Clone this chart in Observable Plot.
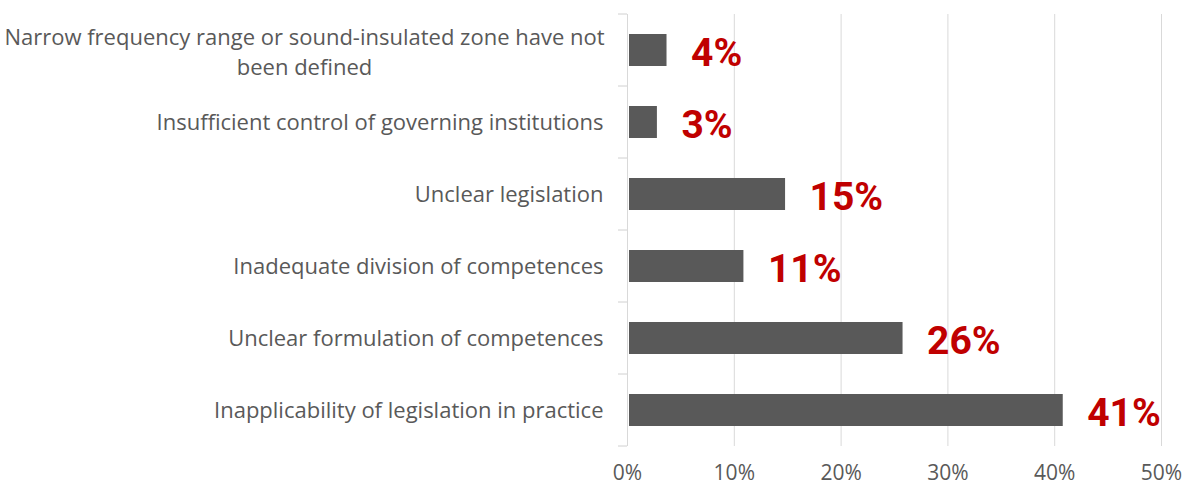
<!DOCTYPE html>
<html>
<head>
<meta charset="utf-8">
<script src="https://cdn.jsdelivr.net/npm/d3@7"></script>
<script src="https://cdn.jsdelivr.net/npm/@observablehq/plot@0.6"></script>
<style>
  html, body { margin: 0; padding: 0; background: #ffffff; }
  #chart svg { display: block; }
</style>
</head>
<body>
<div id="chart"></div>
<script>
// Categories (top to bottom)
const categories = [
  "Narrow frequency range or sound-insulated zone have not\nbeen defined",
  "Insufficient control of governing institutions",
  "Unclear legislation",
  "Inadequate division of competences",
  "Unclear formulation of competences",
  "Inapplicability of legislation in practice"
];
// Bar values (percent)
const values = [3.7, 2.8, 14.8, 10.9, 25.8, 40.8];
// Data labels
const valueLabels = ["4%", "3%", "15%", "11%", "26%", "41%"];
// X tick values
const xTicks = [0, 10, 20, 30, 40, 50];

const rows = categories.map((c, i) => ({category: c, value: values[i], label: valueLabels[i]}));

// Custom mark: small tick marks at the band boundaries on the left of the y axis
function bandBoundaryTicks(index, scales, channels, dims) {
  const y = scales.y;
  const step = y.step();
  const bw = y.bandwidth();
  const half = (step - bw) / 2;
  const bounds = categories.map(c => y(c) - half);
  bounds.push(y(categories[categories.length - 1]) + bw + half);
  const g = d3.create("svg:g");
  const x0 = dims.marginLeft;
  g.selectAll("line").data(bounds).join("line")
    .attr("x1", x0 - 9).attr("x2", x0)
    .attr("y1", d => d).attr("y2", d => d)
    .attr("stroke", "#d0d0d0").attr("stroke-width", 1);
  return g.node();
}

const labelFont = "'Open Sans', sans-serif";

const plot = Plot.plot({
  width: 1184,
  height: 486,
  marginLeft: 627,
  marginRight: 23,
  marginTop: 14,
  marginBottom: 40,
  style: {fontFamily: labelFont, color: "#595959", background: "#ffffff"},
  x: {domain: [0, 50], label: null},
  y: {domain: categories, paddingInner: 0.556, paddingOuter: 0.278, label: null},
  marks: [
    Plot.ruleX(xTicks, {x: d => d, stroke: "#d9d9d9", strokeWidth: 1}),
    bandBoundaryTicks,
    Plot.barX(rows, {x: "value", y: "category", fill: "#595959", insetLeft: 2}),
    Plot.text(rows, {
      x: "value", y: "category", text: "label",
      textAnchor: "start", dx: 24, dy: 3,
      fill: "#c00000", fontFamily: "Roboto, sans-serif", fontWeight: "bold", fontSize: 39
    }),
    Plot.axisY({
      label: null, tickSize: 0, tickPadding: 24, fontSize: 22, fill: "#595959",
      tickFormat: d => d.includes("\n") ? "" : d
    }),
    Plot.text(categories.filter(d => d.includes("\n")), {
      y: d => d, frameAnchor: "left", textAnchor: "middle", dx: -323,
      lineHeight: 1.33, fontSize: 22, fill: "#595959"
    }),
    Plot.axisX({
      label: null, ticks: xTicks, tickSize: 0, tickPadding: 19, fontSize: 21, fill: "#595959",
      tickFormat: d => d + "%"
    })
  ]
});

document.getElementById("chart").appendChild(plot);
</script>
</body>
</html>
